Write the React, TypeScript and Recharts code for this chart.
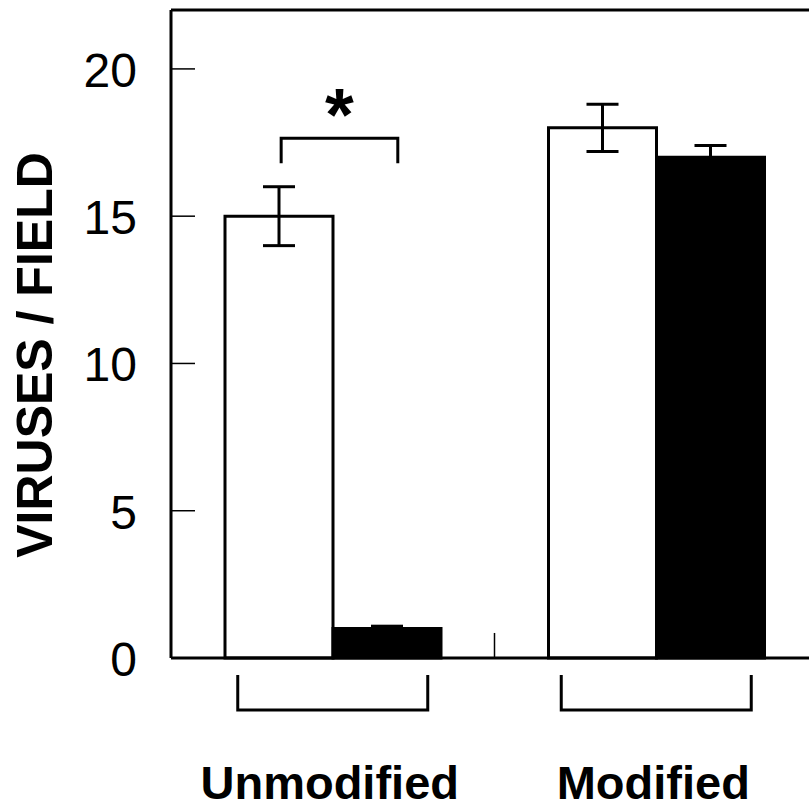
import React from 'react';
import { BarChart, Bar, XAxis, YAxis, ErrorBar, ReferenceLine, LabelList } from 'recharts';

const categories = ['Unmodified', 'Modified'];
const whiteValues = [15, 18];
const whiteErrors = [1, 0.8];
const blackValues = [1, 17];
const blackErrors = [0.08, 0.4];
const yTicks = [0, 5, 10, 15, 20];
const yLabel = 'VIRUSES / FIELD';
// significance annotation: bracket top and leg bottom (data units) over a category
const sigCategory = ['Unmodified'];
const sigTop = [17.65];
const sigLeg = [16.8];
const sigMark = ['*'];

const data = categories.map((c, i) => ({
  category: c,
  white: whiteValues[i],
  whiteErr: whiteErrors[i],
  black: blackValues[i],
  blackErr: blackErrors[i],
}));

const FONT = '"Liberation Sans", Arial, Helvetica, sans-serif';

const YTick = (props: any) => {
  const { x, y, payload } = props;
  return (
    <g>
      <line x1={x} y1={y} x2={x + 24} y2={y} stroke="#000" strokeWidth={1.5} />
      <text x={x - 34} y={y + 18} textAnchor="end" fontSize={48} fontFamily={FONT} fill="#000">
        {payload.value}
      </text>
    </g>
  );
};

const XTick = (props: any) => {
  const { x, y, payload } = props;
  return (
    <g>
      <path
        d={`M${x - 95},${y + 17} L${x - 95},${y + 52} L${x + 95},${y + 52} L${x + 95},${y + 17}`}
        fill="none"
        stroke="#000"
        strokeWidth={3}
      />
      <text x={x - 3} y={y + 141} textAnchor="middle" fontSize={47} fontWeight="bold" fontFamily={FONT} fill="#000">
        {payload.value}
      </text>
    </g>
  );
};

const renderSig = (props: any) => {
  const { index } = props;
  const x = Number(props.x);
  const y = Number(props.y);
  const width = Number(props.width);
  const height = Number(props.height);
  const value = Number(props.value);
  const cat = categories[index];
  const k = sigCategory.indexOf(cat);
  if (k < 0 || !value) return null;
  const bottom = y + height;
  const ppu = height / value;
  const yTop = bottom - sigTop[k] * ppu;
  const yLeg = bottom - sigLeg[k] * ppu;
  const x1 = x + width * 0.52;
  const x2 = x + width * 1.6;
  return (
    <g>
      <path d={`M${x1},${yLeg} L${x1},${yTop} L${x2},${yTop} L${x2},${yLeg}`} fill="none" stroke="#000" strokeWidth={3} />
      <text x={(x1 + x2) / 2} y={yTop + 2} textAnchor="middle" fontSize={74} fontWeight="bold" fontFamily={FONT} fill="#000">
        {sigMark[k]}
      </text>
    </g>
  );
};

const YLabel = () => (
  <text
    transform="translate(52,355) rotate(-90)"
    textAnchor="middle"
    fontSize={50}
    fontWeight="bold"
    fontFamily={FONT}
    fill="#000"
  >
    {yLabel}
  </text>
);

export default function App() {
  return (
    <div style={{ position: 'absolute', left: 0, top: 0, width: 809, height: 810, overflow: 'hidden', background: '#fff' }}>
      <BarChart
        width={820}
        height={810}
        data={data}
        margin={{ top: 10, right: 2, bottom: 2, left: 0 }}
        barGap={0}
        barSize={108}
      >
        <XAxis
          dataKey="category"
          height={150}
          tickLine={false}
          tickSize={0}
          tickMargin={0}
          axisLine={{ stroke: '#000', strokeWidth: 3 }}
          tick={<XTick />}
          interval={0}
        />
        <YAxis
          type="number"
          domain={[0, 22]}
          ticks={yTicks}
          width={171}
          tickLine={false}
          tickSize={0}
          tickMargin={0}
          axisLine={{ stroke: '#000', strokeWidth: 3 }}
          tick={<YTick />}
          label={{ content: () => <YLabel /> }}
        />
        <ReferenceLine y={22} stroke="#000" strokeWidth={3} />
        <ReferenceLine
          segment={[{ x: 'Modified', y: 0 }, { x: 'Modified', y: 0.85 }]}
          position="start"
          stroke="#000"
          strokeWidth={1.5}
        />
        <Bar dataKey="white" fill="#fff" stroke="#000" strokeWidth={3} isAnimationActive={false}>
          <ErrorBar dataKey="whiteErr" width={16} stroke="#000" strokeWidth={3} />
          <LabelList dataKey="white" content={renderSig} />
        </Bar>
        <Bar dataKey="black" fill="#000" stroke="#000" strokeWidth={3} isAnimationActive={false}>
          <ErrorBar dataKey="blackErr" width={16} stroke="#000" strokeWidth={3} />
        </Bar>
      </BarChart>
    </div>
  );
}
